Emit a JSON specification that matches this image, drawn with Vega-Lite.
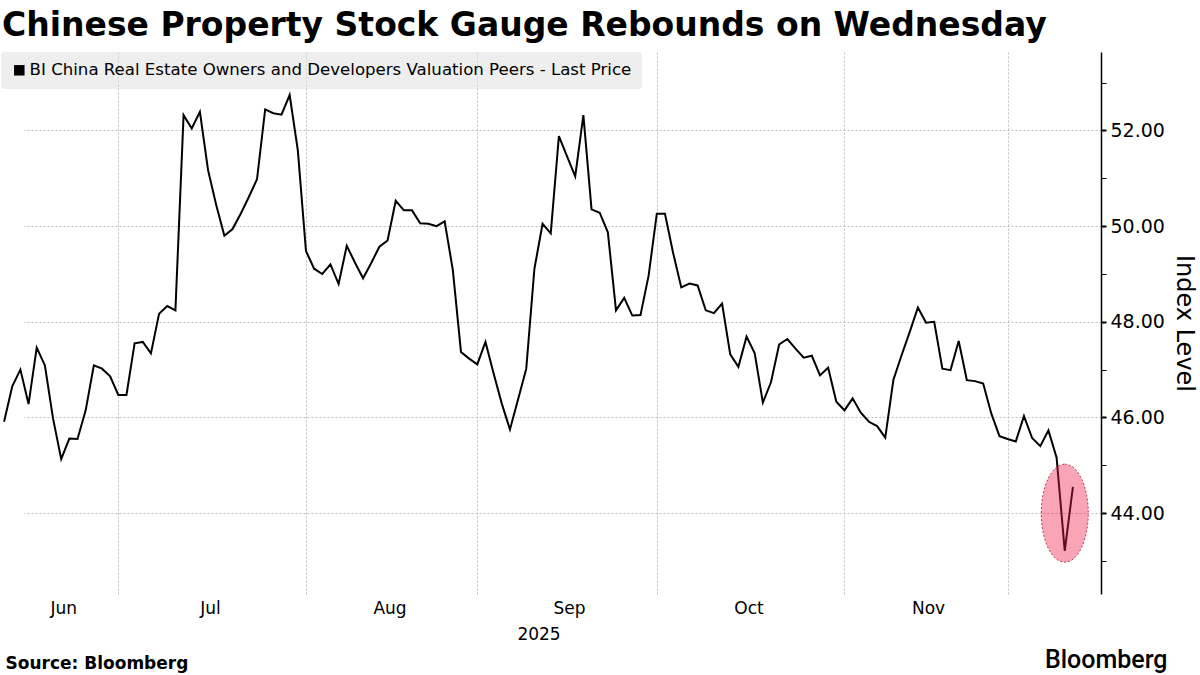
{
  "$schema": "https://vega.github.io/schema/vega-lite/v6.json",
  "autosize": {"type": "none"},
  "width": 1101,
  "height": 542,
  "padding": {"left": 0, "top": 52, "right": 99, "bottom": 81},
  "background": "white",
  "config": {"view": {"stroke": null}},
  "title": {
    "text": "Chinese Property Stock Gauge Rebounds on Wednesday",
    "anchor": "start",
    "frame": "group",
    "font": "DejaVu Sans",
    "fontSize": 33,
    "fontWeight": "bold",
    "color": "#000000",
    "baseline": "alphabetic",
    "offset": 15,
    "dx": 2,
    "dy": 32
  },
  "datasets": {
    "prices": [
      {"date": "2025-06-10", "level": 45.91}, {"date": "2025-06-11", "level": 46.65}, {"date": "2025-06-12", "level": 47.00}, {"date": "2025-06-13", "level": 46.28},
      {"date": "2025-06-16", "level": 47.46}, {"date": "2025-06-17", "level": 47.09}, {"date": "2025-06-18", "level": 45.98}, {"date": "2025-06-19", "level": 45.13},
      {"date": "2025-06-20", "level": 45.56}, {"date": "2025-06-23", "level": 45.55}, {"date": "2025-06-24", "level": 46.15}, {"date": "2025-06-25", "level": 47.09},
      {"date": "2025-06-26", "level": 47.02}, {"date": "2025-06-27", "level": 46.86}, {"date": "2025-06-30", "level": 46.47},
      {"date": "2025-07-01", "level": 46.47}, {"date": "2025-07-02", "level": 47.55}, {"date": "2025-07-03", "level": 47.58}, {"date": "2025-07-04", "level": 47.34},
      {"date": "2025-07-07", "level": 48.17}, {"date": "2025-07-08", "level": 48.33}, {"date": "2025-07-09", "level": 48.24}, {"date": "2025-07-10", "level": 52.32},
      {"date": "2025-07-11", "level": 52.04}, {"date": "2025-07-14", "level": 52.39}, {"date": "2025-07-15", "level": 51.17}, {"date": "2025-07-16", "level": 50.44},
      {"date": "2025-07-17", "level": 49.80}, {"date": "2025-07-18", "level": 49.94}, {"date": "2025-07-21", "level": 50.26}, {"date": "2025-07-22", "level": 50.61},
      {"date": "2025-07-23", "level": 50.98}, {"date": "2025-07-24", "level": 52.44}, {"date": "2025-07-25", "level": 52.36}, {"date": "2025-07-28", "level": 52.33},
      {"date": "2025-07-29", "level": 52.74}, {"date": "2025-07-30", "level": 51.59}, {"date": "2025-07-31", "level": 49.48},
      {"date": "2025-08-01", "level": 49.11}, {"date": "2025-08-04", "level": 49.00}, {"date": "2025-08-05", "level": 49.20}, {"date": "2025-08-06", "level": 48.79},
      {"date": "2025-08-07", "level": 49.59}, {"date": "2025-08-08", "level": 49.24}, {"date": "2025-08-11", "level": 48.91}, {"date": "2025-08-12", "level": 49.23},
      {"date": "2025-08-13", "level": 49.57}, {"date": "2025-08-14", "level": 49.70}, {"date": "2025-08-15", "level": 50.53}, {"date": "2025-08-18", "level": 50.33},
      {"date": "2025-08-19", "level": 50.33}, {"date": "2025-08-20", "level": 50.06}, {"date": "2025-08-21", "level": 50.05}, {"date": "2025-08-22", "level": 50.00},
      {"date": "2025-08-25", "level": 50.10}, {"date": "2025-08-26", "level": 49.08}, {"date": "2025-08-27", "level": 47.37}, {"date": "2025-08-28", "level": 47.23},
      {"date": "2025-08-29", "level": 47.11},
      {"date": "2025-09-01", "level": 47.58}, {"date": "2025-09-02", "level": 46.92}, {"date": "2025-09-03", "level": 46.29}, {"date": "2025-09-04", "level": 45.75},
      {"date": "2025-09-05", "level": 46.38}, {"date": "2025-09-08", "level": 47.02}, {"date": "2025-09-09", "level": 49.11}, {"date": "2025-09-10", "level": 50.05},
      {"date": "2025-09-11", "level": 49.85}, {"date": "2025-09-12", "level": 51.88}, {"date": "2025-09-15", "level": 51.46}, {"date": "2025-09-16", "level": 51.04},
      {"date": "2025-09-17", "level": 52.32}, {"date": "2025-09-18", "level": 50.35}, {"date": "2025-09-19", "level": 50.28}, {"date": "2025-09-22", "level": 49.87},
      {"date": "2025-09-23", "level": 48.24}, {"date": "2025-09-24", "level": 48.50}, {"date": "2025-09-25", "level": 48.13}, {"date": "2025-09-26", "level": 48.14},
      {"date": "2025-09-29", "level": 48.97}, {"date": "2025-09-30", "level": 50.26},
      {"date": "2025-10-01", "level": 50.26}, {"date": "2025-10-02", "level": 49.44}, {"date": "2025-10-03", "level": 48.72}, {"date": "2025-10-06", "level": 48.80},
      {"date": "2025-10-07", "level": 48.76}, {"date": "2025-10-08", "level": 48.24}, {"date": "2025-10-09", "level": 48.18}, {"date": "2025-10-10", "level": 48.38},
      {"date": "2025-10-13", "level": 47.32}, {"date": "2025-10-14", "level": 47.06}, {"date": "2025-10-15", "level": 47.69}, {"date": "2025-10-16", "level": 47.34},
      {"date": "2025-10-17", "level": 46.31}, {"date": "2025-10-20", "level": 46.74}, {"date": "2025-10-21", "level": 47.53}, {"date": "2025-10-22", "level": 47.64},
      {"date": "2025-10-23", "level": 47.44}, {"date": "2025-10-24", "level": 47.25}, {"date": "2025-10-27", "level": 47.29}, {"date": "2025-10-28", "level": 46.88},
      {"date": "2025-10-29", "level": 47.04}, {"date": "2025-10-30", "level": 46.33}, {"date": "2025-10-31", "level": 46.15},
      {"date": "2025-11-03", "level": 46.40}, {"date": "2025-11-04", "level": 46.10}, {"date": "2025-11-05", "level": 45.91}, {"date": "2025-11-06", "level": 45.82},
      {"date": "2025-11-07", "level": 45.58}, {"date": "2025-11-10", "level": 46.79}, {"date": "2025-11-11", "level": 47.30}, {"date": "2025-11-12", "level": 47.79},
      {"date": "2025-11-13", "level": 48.30}, {"date": "2025-11-14", "level": 47.98}, {"date": "2025-11-17", "level": 48.00}, {"date": "2025-11-18", "level": 47.02},
      {"date": "2025-11-19", "level": 46.99}, {"date": "2025-11-20", "level": 47.60}, {"date": "2025-11-21", "level": 46.78}, {"date": "2025-11-24", "level": 46.76},
      {"date": "2025-11-25", "level": 46.71}, {"date": "2025-11-26", "level": 46.08}, {"date": "2025-11-27", "level": 45.61}, {"date": "2025-11-28", "level": 45.55},
      {"date": "2025-12-01", "level": 45.50}, {"date": "2025-12-02", "level": 46.03}, {"date": "2025-12-03", "level": 45.57}, {"date": "2025-12-04", "level": 45.40},
      {"date": "2025-12-05", "level": 45.73}, {"date": "2025-12-08", "level": 45.16}, {"date": "2025-12-09", "level": 43.21}, {"date": "2025-12-10", "level": 44.55}
    ],
    "highlight": [
      {"date": "2025-12-09", "level": 44.0}
    ]
  },
  "resolve": {"axis": {"x": "independent", "y": "independent"}},
  "layer": [
    {
      "data": {"name": "prices"},
      "mark": {"type": "line", "strokeWidth": 2, "interpolate": "linear"},
      "encoding": {
        "x": {
          "field": "date",
          "type": "ordinal",
          "sort": "ascending",
          "scale": {"type": "point", "range": [0, 1077]},
          "axis": {
            "orient": "bottom",
            "values": ["2025-06-19", "2025-06-30", "2025-07-15", "2025-07-31", "2025-08-14", "2025-08-29", "2025-09-15", "2025-09-30", "2025-10-15", "2025-10-31", "2025-11-14", "2025-11-28"],
            "labelExpr": "datum.value == '2025-06-19' ? 'Jun' : datum.value == '2025-07-15' ? 'Jul' : datum.value == '2025-08-14' ? 'Aug' : datum.value == '2025-09-15' ? 'Sep' : datum.value == '2025-10-15' ? 'Oct' : datum.value == '2025-11-14' ? 'Nov' : ''",
            "labelAngle": 0,
            "labelOverlap": false,
            "labelFont": "DejaVu Sans",
            "labelFontSize": 17,
            "labelColor": "#000000",
            "labelPadding": 6,
            "labelOffset": 2,
            "ticks": false,
            "domain": false,
            "grid": true,
            "gridColor": "#bdbdbd",
            "gridDash": [2, 2],
            "gridWidth": 1,
            "gridOpacity": {"condition": {"test": "indexof(['2025-06-30','2025-07-31','2025-08-29','2025-09-30','2025-10-31','2025-11-28'], datum.value) >= 0", "value": 1}, "value": 0},
            "title": "2025",
            "titleFont": "DejaVu Sans",
            "titleFontSize": 17,
            "titleFontWeight": "normal",
            "titleColor": "#000000",
            "titlePadding": 10
          }
        },
        "y": {
          "field": "level",
          "type": "quantitative",
          "scale": {"domain": [42.31, 53.64], "nice": false, "zero": false},
          "axis": {
            "orient": "right",
            "values": [43, 44, 45, 46, 47, 48, 49, 50, 51, 52, 53],
            "labelExpr": "datum.value % 2 == 0 ? format(datum.value, '.2f') : ''",
            "labelFont": "DejaVu Sans",
            "labelFontSize": 19,
            "labelColor": "#000000",
            "labelPadding": 4,
            "tickSize": 5,
            "tickColor": "#000000",
            "tickWidth": {"condition": {"test": "datum.value % 2 == 0", "value": 2}, "value": 1},
            "domain": true,
            "domainColor": "#000000",
            "domainWidth": 1.5,
            "grid": true,
            "gridColor": "#bdbdbd",
            "gridDash": [2, 2],
            "gridWidth": 1,
            "gridOpacity": {"condition": {"test": "datum.value % 2 == 0", "value": 1}, "value": 0},
            "title": "Index Level",
            "titleAngle": 90,
            "titleFont": "DejaVu Sans",
            "titleFontSize": 24,
            "titleFontWeight": "normal",
            "titleColor": "#000000",
            "titlePadding": 7
          }
        },
        "color": {
          "datum": "BI China Real Estate Owners and Developers Valuation Peers - Last Price",
          "type": "nominal",
          "scale": {"range": ["#000000"]},
          "legend": {
            "title": null,
            "orient": "none",
            "legendX": 1,
            "legendY": 0,
            "fillColor": "rgba(224,224,224,0.55)",
            "cornerRadius": 3,
            "padding": 10,
            "symbolType": "square",
            "symbolSize": 110,
            "labelOffset": 2,
            "labelLimit": 0,
            "labelFont": "DejaVu Sans",
            "labelFontSize": 16.6,
            "labelColor": "#000000",
            "encode": {"symbols": {"update": {"fill": {"value": "#000000"}, "stroke": {"value": "#000000"}, "strokeWidth": {"value": 0}}}}
          }
        }
      }
    },
    {
      "data": {"name": "highlight"},
      "mark": {
        "type": "point",
        "shape": "M 0 -1 C 0.265 -1 0.48 -0.5523 0.48 0 C 0.48 0.5523 0.265 1 0 1 C -0.265 1 -0.48 0.5523 -0.48 0 C -0.48 -0.5523 -0.265 -1 0 -1 Z",
        "size": 9604,
        "filled": true,
        "fill": "#f21d46",
        "fillOpacity": 0.4,
        "stroke": "#b3263f",
        "strokeWidth": 1,
        "strokeDash": [2, 2],
        "strokeOpacity": 0.9
      },
      "encoding": {
        "x": {
          "field": "date",
          "type": "ordinal",
          "axis": {
            "orient": "bottom",
            "values": [],
            "labels": false,
            "ticks": false,
            "domain": false,
            "grid": false,
            "title": "Source:  Bloomberg",
            "titleFont": "DejaVu Sans",
            "titleFontSize": 17,
            "titleFontWeight": "bold",
            "titleColor": "#000000",
            "titleAlign": "left",
            "titleBaseline": "alphabetic",
            "titleAnchor": "start",
            "titleX": 5,
            "titleY": 74
          }
        },
        "y": {
          "field": "level",
          "type": "quantitative",
          "axis": {
            "orient": "right",
            "values": [],
            "labels": false,
            "ticks": false,
            "domain": false,
            "grid": false,
            "title": "Bloomberg",
            "titleAngle": 0,
            "titleFont": "Roboto",
            "titleFontSize": 25,
            "titleFontWeight": 500,
            "titleColor": "#000000",
            "titleAlign": "right",
            "titleBaseline": "alphabetic",
            "titleX": 66,
            "titleY": 615
          }
        }
      }
    }
  ]
}
